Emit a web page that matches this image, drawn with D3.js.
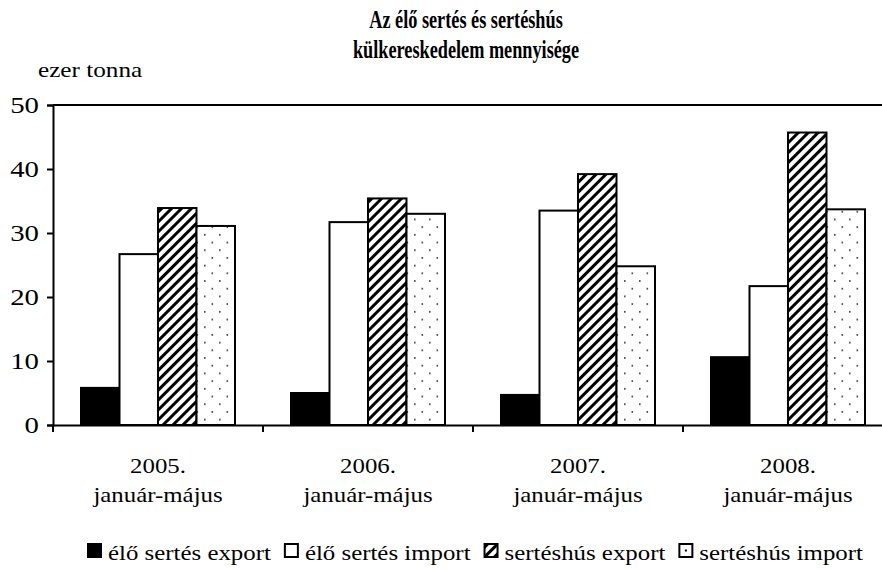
<!DOCTYPE html>
<html>
<head>
<meta charset="utf-8">
<script src="https://cdn.jsdelivr.net/npm/d3@7"></script>
<style>
  body { margin: 0; background: #fff; }
</style>
</head>
<body>
<svg id="chart" width="882" height="569" font-family="Liberation Serif"></svg>
<script>
// data
const categories = ['2005.', '2006.', '2007.', '2008.'];
const subLabel = 'január-május';
const seriesNames = ['élő sertés export', 'élő sertés import', 'sertéshús export', 'sertéshús import'];
const eloExport = [5.8, 5.0, 4.7, 10.6];
const eloImport = [26.7, 31.7, 33.5, 21.7];
const husExport = [33.9, 35.4, 39.2, 45.7];
const husImport = [31.1, 33.0, 24.8, 33.7];
const yTicks = [0, 10, 20, 30, 40, 50];

const seriesValues = [eloExport, eloImport, husExport, husImport];
const fills = ['#000', '#fff', 'url(#hatch)', 'url(#dots)'];
const FONT = 'Liberation Serif';
const SX = 1.13; // the reference text is a little wider than Liberation Serif

const svg = d3.select('#chart');
const defs = svg.append('defs');

// helper: text stretched horizontally
function wideText(parent, x, yy, str, size, sx, anchor) {
  return parent.append('text')
    .attr('transform', 'translate(' + x + ',' + yy + ') scale(' + sx + ',1)')
    .attr('font-family', FONT)
    .attr('font-size', size)
    .attr('text-anchor', anchor || 'start')
    .attr('fill', '#000')
    .text(str);
}

// diagonal hatch
let hatch = defs.append('pattern')
  .attr('id', 'hatch')
  .attr('patternUnits', 'userSpaceOnUse')
  .attr('width', 7)
  .attr('height', 7)
  .attr('patternTransform', 'rotate(45)');
hatch.append('rect').attr('width', 7).attr('height', 7).attr('fill', '#fff');
hatch.append('rect').attr('x', 0).attr('width', 3).attr('height', 7).attr('fill', '#000');

// staggered dots
let dots = defs.append('pattern')
  .attr('id', 'dots')
  .attr('patternUnits', 'userSpaceOnUse')
  .attr('width', 15)
  .attr('height', 15.4);
dots.append('rect').attr('width', 15).attr('height', 15.4).attr('fill', '#fff');
dots.append('rect').attr('x', 3).attr('y', 3).attr('width', 1.6).attr('height', 1.6).attr('fill', '#333');
dots.append('rect').attr('x', 10.5).attr('y', 10.7).attr('width', 1.6).attr('height', 1.6).attr('fill', '#333');

let x0 = d3.scaleBand().domain(categories).range([53, 893]).padding(0);
let groupW = 154;
let x1 = d3.scaleBand().domain(d3.range(seriesNames.length)).range([0, groupW]).padding(0);
let y = d3.scaleLinear().domain([0, 50]).range([425, 105]);

// title
let tg = svg.append('g').attr('font-weight', 'bold');
wideText(tg, 466, 28, 'Az élő sertés és sertéshús', 25, 0.73, 'middle');
wideText(tg, 466, 58, 'külkereskedelem mennyisége', 25, 0.73, 'middle');

wideText(svg, 38, 77, 'ezer tonna', 21, 1.2);

// top border line at 50
svg.append('line')
  .attr('x1', 53).attr('x2', 882)
  .attr('y1', y(50)).attr('y2', y(50))
  .attr('stroke', '#000').attr('stroke-width', 2);

// bars
let groups = svg.append('g').selectAll('g')
  .data(categories)
  .enter()
  .append('g')
  .attr('transform', d => 'translate(' + (x0(d) + (x0.bandwidth() - groupW) / 2) + ',0)');

groups.selectAll('rect')
  .data((d, i) => seriesValues.map((s, k) => ({ k: k, v: s[i] })))
  .enter()
  .append('rect')
  .attr('x', d => x1(d.k))
  .attr('y', d => y(d.v))
  .attr('width', x1.bandwidth())
  .attr('height', d => y(0) - y(d.v))
  .attr('fill', d => fills[d.k])
  .attr('stroke', '#000')
  .attr('stroke-width', 2);

// y axis
let yAxis = svg.append('g')
  .attr('transform', 'translate(53,0)')
  .call(d3.axisLeft(y).tickValues(yTicks).tickSize(6).tickPadding(10));
yAxis.select('.domain').attr('stroke-width', 2);
yAxis.selectAll('.tick line').attr('stroke-width', 2);
yAxis.selectAll('.tick text')
  .attr('font-family', FONT)
  .attr('font-size', 24)
  .attr('fill', '#000')
  .attr('x', -14 / 1.2)
  .attr('transform', 'scale(1.2,1)');

// x axis
let xAxis = svg.append('g')
  .attr('transform', 'translate(0,' + y(0) + ')')
  .call(d3.axisBottom(x0).tickSize(0).tickFormat(''));
xAxis.select('.domain').attr('stroke-width', 2);
xAxis.selectAll('.tick line').remove();

// category separator ticks
svg.append('g').selectAll('line')
  .data(categories)
  .enter()
  .append('line')
  .attr('x1', d => x0(d)).attr('x2', d => x0(d))
  .attr('y1', y(0)).attr('y2', y(0) + 7)
  .attr('stroke', '#000').attr('stroke-width', 2);

let catG = svg.append('g');
categories.forEach(c => {
  let cx = x0(c) + x0.bandwidth() / 2;
  wideText(catG, cx, 473, c, 22, SX, 'middle');
  wideText(catG, cx, 502, subLabel, 22, SX, 'middle');
});

// legend
let legend = svg.append('g');
let lx = 87;
seriesNames.forEach((name, k) => {
  legend.append('rect')
    .attr('x', lx + 1).attr('y', 544)
    .attr('width', 13).attr('height', 13)
    .attr('fill', k === 3 ? '#fff' : fills[k])
    .attr('stroke', '#000').attr('stroke-width', 2);
  if (k === 3) {
    legend.append('rect')
      .attr('x', lx + 6.5).attr('y', 549.5)
      .attr('width', 2).attr('height', 2).attr('fill', '#000');
  }
  let t = wideText(legend, lx + 21, 560, name, 22, SX);
  lx += 21 + t.node().getComputedTextLength() * SX + 13;
});
</script>
</body>
</html>
